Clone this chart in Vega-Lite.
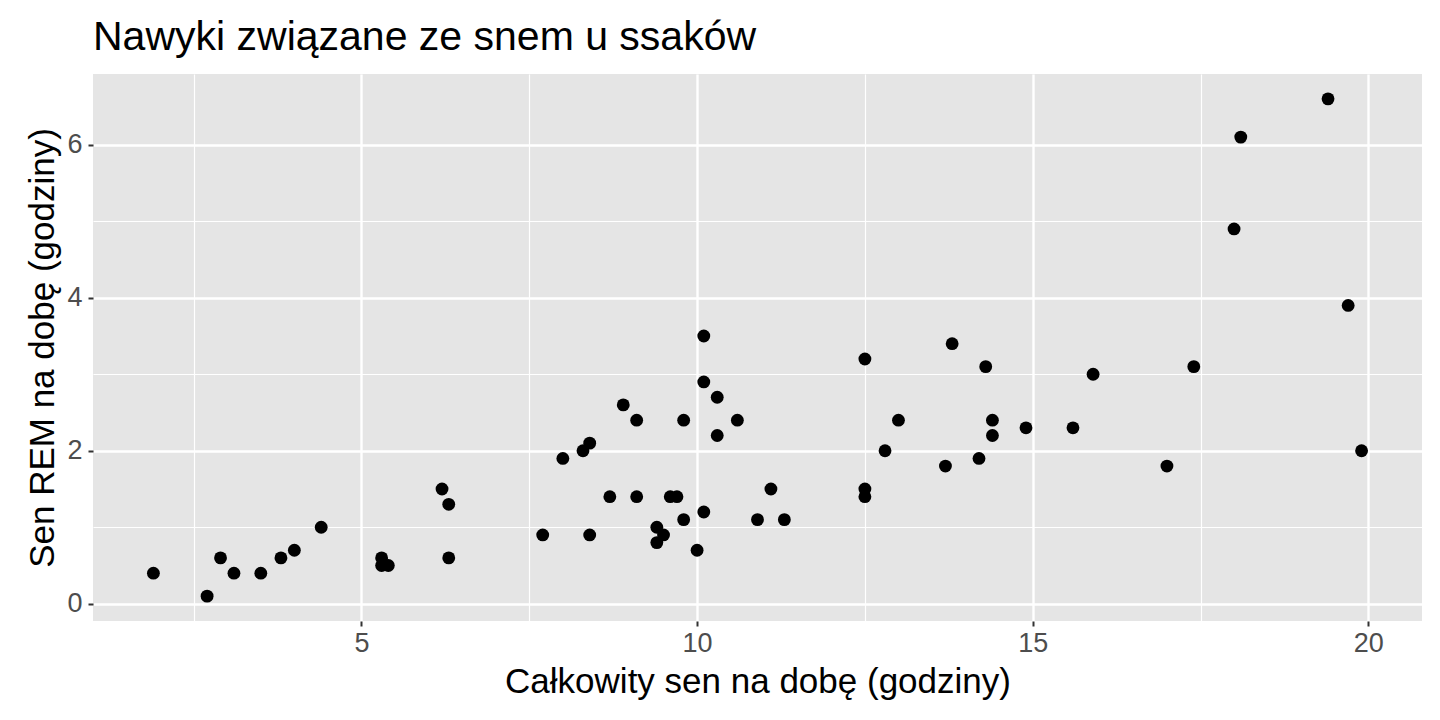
{
  "$schema": "https://vega.github.io/schema/vega-lite/v6.json",
  "width": 1329,
  "height": 547,
  "autosize": {"type": "none"},
  "padding": {"left": 93, "top": 74, "right": 18, "bottom": 99},
  "background": "white",
  "title": {
    "text": "Nawyki związane ze snem u ssaków",
    "anchor": "start",
    "frame": "group",
    "font": "Liberation Sans",
    "fontSize": 41,
    "fontWeight": "normal",
    "color": "black",
    "offset": 15
  },
  "config": {
    "view": {"fill": "#E5E5E5", "stroke": null},
    "font": "Liberation Sans",
    "axis": {
      "domain": false,
      "gridColor": "white",
      "tickColor": "#333333",
      "tickSize": 5,
      "tickWidth": 2,
      "labelColor": "#4D4D4D",
      "labelFont": "Liberation Sans",
      "labelFontSize": 27,
      "titleFont": "Liberation Sans",
      "titleFontSize": 35,
      "titleFontWeight": "normal",
      "titleColor": "black"
    }
  },
  "data": {
    "values": [
      {"sleep_total": 17.0, "sleep_rem": 1.8},
      {"sleep_total": 14.4, "sleep_rem": 2.4},
      {"sleep_total": 14.9, "sleep_rem": 2.3},
      {"sleep_total": 4.0, "sleep_rem": 0.7},
      {"sleep_total": 14.4, "sleep_rem": 2.2},
      {"sleep_total": 8.7, "sleep_rem": 1.4},
      {"sleep_total": 10.1, "sleep_rem": 2.9},
      {"sleep_total": 5.3, "sleep_rem": 0.6},
      {"sleep_total": 9.4, "sleep_rem": 0.8},
      {"sleep_total": 10.0, "sleep_rem": 0.7},
      {"sleep_total": 12.5, "sleep_rem": 1.5},
      {"sleep_total": 10.3, "sleep_rem": 2.2},
      {"sleep_total": 8.3, "sleep_rem": 2.0},
      {"sleep_total": 9.1, "sleep_rem": 1.4},
      {"sleep_total": 17.4, "sleep_rem": 3.1},
      {"sleep_total": 5.3, "sleep_rem": 0.5},
      {"sleep_total": 18.0, "sleep_rem": 4.9},
      {"sleep_total": 19.7, "sleep_rem": 3.9},
      {"sleep_total": 2.9, "sleep_rem": 0.6},
      {"sleep_total": 3.1, "sleep_rem": 0.4},
      {"sleep_total": 10.1, "sleep_rem": 3.5},
      {"sleep_total": 10.9, "sleep_rem": 1.1},
      {"sleep_total": 12.5, "sleep_rem": 3.2},
      {"sleep_total": 9.8, "sleep_rem": 1.1},
      {"sleep_total": 1.9, "sleep_rem": 0.4},
      {"sleep_total": 2.7, "sleep_rem": 0.1},
      {"sleep_total": 6.2, "sleep_rem": 1.5},
      {"sleep_total": 6.3, "sleep_rem": 0.6},
      {"sleep_total": 8.0, "sleep_rem": 1.9},
      {"sleep_total": 9.5, "sleep_rem": 0.9},
      {"sleep_total": 19.4, "sleep_rem": 6.6},
      {"sleep_total": 10.1, "sleep_rem": 1.2},
      {"sleep_total": 14.2, "sleep_rem": 1.9},
      {"sleep_total": 14.3, "sleep_rem": 3.1},
      {"sleep_total": 12.5, "sleep_rem": 1.4},
      {"sleep_total": 19.9, "sleep_rem": 2.0},
      {"sleep_total": 7.7, "sleep_rem": 0.9},
      {"sleep_total": 8.4, "sleep_rem": 0.9},
      {"sleep_total": 3.8, "sleep_rem": 0.6},
      {"sleep_total": 9.7, "sleep_rem": 1.4},
      {"sleep_total": 9.4, "sleep_rem": 1.0},
      {"sleep_total": 10.3, "sleep_rem": 2.7},
      {"sleep_total": 13.7, "sleep_rem": 1.8},
      {"sleep_total": 3.5, "sleep_rem": 0.4},
      {"sleep_total": 11.1, "sleep_rem": 1.5},
      {"sleep_total": 18.1, "sleep_rem": 6.1},
      {"sleep_total": 5.4, "sleep_rem": 0.5},
      {"sleep_total": 13.0, "sleep_rem": 2.4},
      {"sleep_total": 9.6, "sleep_rem": 1.4},
      {"sleep_total": 8.4, "sleep_rem": 2.1},
      {"sleep_total": 11.3, "sleep_rem": 1.1},
      {"sleep_total": 10.6, "sleep_rem": 2.4},
      {"sleep_total": 13.8, "sleep_rem": 3.4},
      {"sleep_total": 15.9, "sleep_rem": 3.0},
      {"sleep_total": 12.8, "sleep_rem": 2.0},
      {"sleep_total": 9.1, "sleep_rem": 2.4},
      {"sleep_total": 4.4, "sleep_rem": 1.0},
      {"sleep_total": 15.6, "sleep_rem": 2.3},
      {"sleep_total": 8.9, "sleep_rem": 2.6},
      {"sleep_total": 6.3, "sleep_rem": 1.3},
      {"sleep_total": 9.8, "sleep_rem": 2.4}
    ]
  },
  "mark": {"type": "circle", "size": 165, "opacity": 1, "color": "black"},
  "encoding": {
    "x": {
      "field": "sleep_total",
      "type": "quantitative",
      "title": "Całkowity sen na dobę (godziny)",
      "scale": {"domain": [1.0, 20.8], "nice": false, "zero": false},
      "axis": {
        "values": [2.5, 5, 7.5, 10, 12.5, 15, 17.5, 20],
        "labelExpr": "datum.value % 5 === 0 ? datum.label : ''",
        "tickOpacity": {"condition": {"test": "datum.value % 5 === 0", "value": 1}, "value": 0},
        "gridWidth": {"condition": {"test": "datum.value % 5 === 0", "value": 2.4}, "value": 1.2},
        "labelPadding": 4,
        "titlePadding": 8
      }
    },
    "y": {
      "field": "sleep_rem",
      "type": "quantitative",
      "title": "Sen REM na dobę (godziny)",
      "scale": {"domain": [-0.225, 6.925], "nice": false, "zero": false},
      "axis": {
        "values": [0, 1, 2, 3, 4, 5, 6],
        "labelExpr": "datum.value % 2 === 0 ? datum.label : ''",
        "tickOpacity": {"condition": {"test": "datum.value % 2 === 0", "value": 1}, "value": 0},
        "gridWidth": {"condition": {"test": "datum.value % 2 === 0", "value": 2.4}, "value": 1.2},
        "labelPadding": 6,
        "titlePadding": 6
      }
    }
  }
}
